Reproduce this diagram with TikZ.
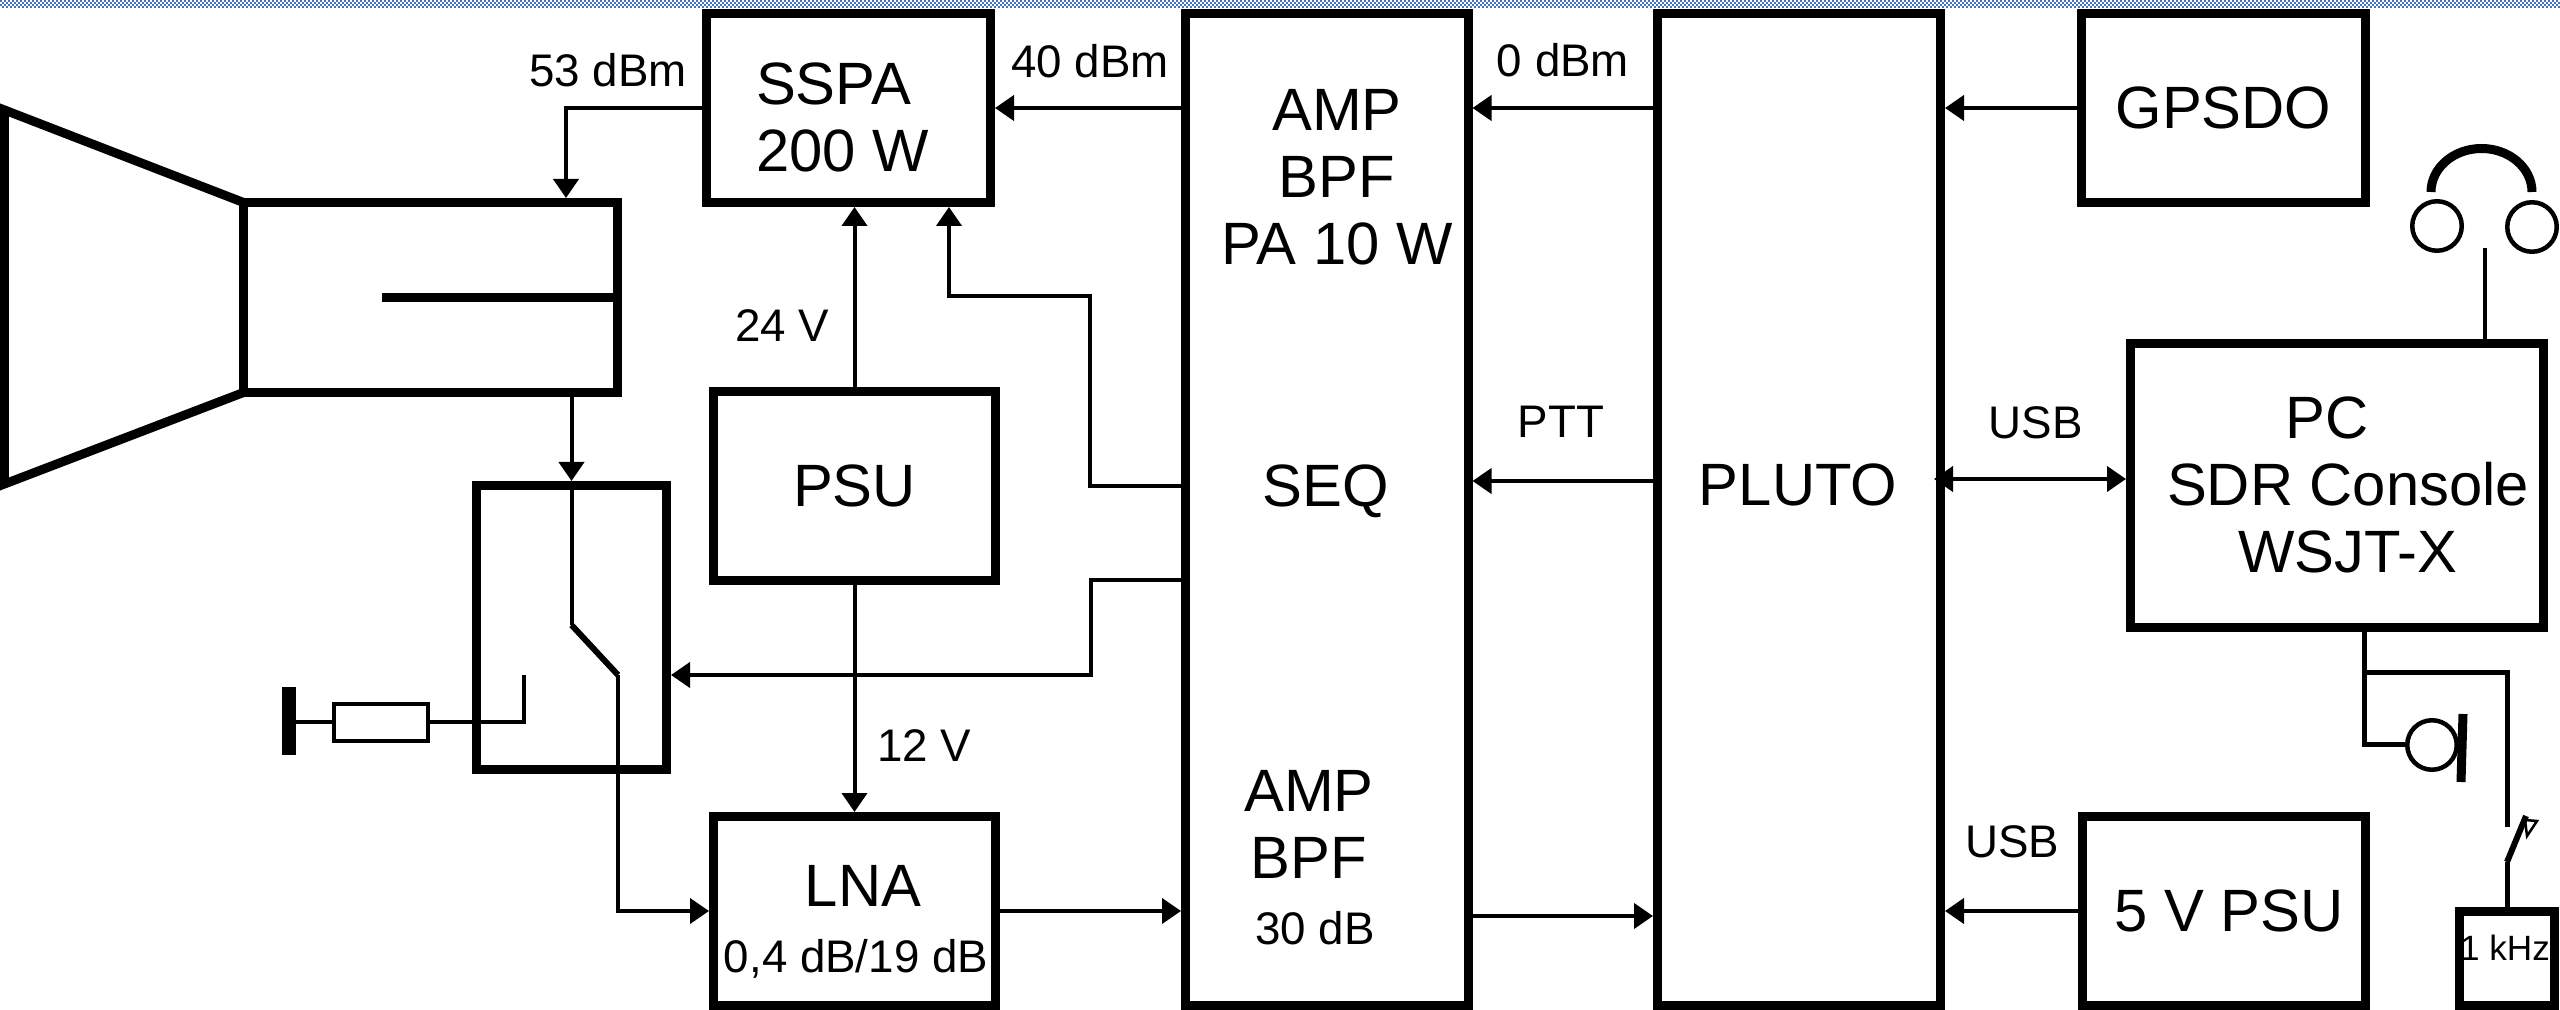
\documentclass[tikz,border=0pt]{standalone}
\usepackage{fontspec}
\setmainfont{Liberation Sans}
\usetikzlibrary{arrows.meta}
\definecolor{ditherblue}{RGB}{68,114,196}

\begin{document}
\begin{tikzpicture}[x=0.1mm,y=-0.1mm,line width=0.4mm,>={Triangle[length=1.9mm,width=2.5mm]}]
\tikzstyle{block}=[draw=black,line width=0.9mm,inner sep=0,font=\fontsize{17}{19.06}\selectfont,align=center]
\tikzstyle{biglabel}=[inner sep=0,font=\fontsize{17}{19.06}\selectfont]
\tikzstyle{smalllabel}=[inner sep=0,anchor=base,font=\fontsize{13}{15}\selectfont]
\tikzstyle{earpiece}=[draw=black,circle,line width=0.45mm,inner sep=0,minimum size=4.95mm]
\tikzstyle{heavy}=[line width=0.9mm]
\useasboundingbox (0,0) rectangle (2560,1010);
\foreach \rowy/\rowph in {1/0,3/0.2,5/0,7/0.2}
  \draw[ditherblue,line width=0.2mm,dash pattern=on 0.2mm off 0.2mm,dash phase=\rowph mm] (0,\rowy) -- (2560,\rowy);
\node[block,minimum width=28.4mm,minimum height=18.9mm] (sspa) at (848.5,108) {};
\node[block,minimum width=28.2mm,minimum height=18.9mm] (psu) at (854.5,486) {PSU};
\node[block,minimum width=28.2mm,minimum height=18.9mm] (lna) at (854.5,911) {};
\node[block,minimum width=37.4mm,minimum height=19mm] (wg) at (430.5,297.5) {};
\node[block,minimum width=19mm,minimum height=28.4mm] (rfsw) at (571.5,627.5) {};
\node[block,minimum width=28.25mm,minimum height=99.2mm] (amp) at (1326.75,509.5) {};
\node[block,minimum width=28.3mm,minimum height=99.2mm] (pluto) at (1799,509.5) {};
\node[block,minimum width=28.4mm,minimum height=18.9mm] (gpsdo) at (2223.5,108) {GPSDO};
\node[block,minimum width=41.3mm,minimum height=28.4mm] (pc) at (2337,485.5) {};
\node[block,minimum width=28.3mm,minimum height=18.9mm] (psufive) at (2224,911) {};
\node[block,minimum width=9.5mm,minimum height=9.4mm] (tone) at (2507,958.5) {};
\node[draw=black,inner sep=0,minimum width=9.4mm,minimum height=3.7mm] (res) at (381,722.5) {};
\node[earpiece] (earl) at (2437,226) {};
\node[earpiece] (earr) at (2532,227) {};
\node[earpiece] (mic) at (2432,745) {};
\node[biglabel,align=left,anchor=west] (sspatxt) at (754,117.5) {SSPA\\200 W};
\node[biglabel,align=center] (amptxt) at (1337,177) {AMP\\BPF\\PA 10 W};
\node[biglabel,anchor=base] (seqtxt) at (1326,507) {SEQ};
\node[biglabel,align=center] (amptxtb) at (1309,824.5) {AMP\\BPF};
\node[biglabel] (plutotxt) at (1798,485) {PLUTO};
\node[biglabel] (lnatxt) at (863,885.5) {LNA};
\node[biglabel,align=center] (pctxt) at (2348,485) {PC\hspace*{4.2mm}\\SDR Console\\WSJT-X};
\node[biglabel] (psufivetxt) at (2229,910.5) {5 V PSU};
\node[smalllabel] (lnagain) at (856,972) {0,4 dB/19 dB};
\node[smalllabel] (ampgain) at (1315,944) {30 dB};
\node[smalllabel] (lab53) at (608,87) {53 dBm};
\node[smalllabel] (lab40) at (1090,78) {40 dBm};
\node[smalllabel] (lab0) at (1563,77) {0 dBm};
\node[smalllabel] (lab24) at (782,342) {24 V};
\node[smalllabel] (lab12) at (924,762) {12 V};
\node[smalllabel] (labptt) at (1561,438) {PTT};
\node[smalllabel] (labusb) at (2035.5,438.5) {USB};
\node[smalllabel] (labusbb) at (2012,858) {USB};
\node[inner sep=0,font=\fontsize{10}{12}\selectfont] (tonetxt) at (2505,948) {1 kHz};
\coordinate (probe) at (382,297.5);
\coordinate (wipera) at (571.5,625);
\coordinate (wiperb) at (618,675);
\coordinate (contact) at (524,675);
\coordinate (gnd) at (289,722.5);
\coordinate (seqa) at (1090,486);
\coordinate (seqb) at (949,296);
\coordinate (seqc) at (1091,580);
\coordinate (pttport) at (1600,481);
\coordinate (usbport) at (2035,479);
\coordinate (ampout) at (1560,916);
\coordinate (antfeed) at (566,108);
\coordinate (phones) at (2485,248);
\coordinate (tap) at (2364,673);
\coordinate (keya) at (2507,827);
\coordinate (keyb) at (2507,862);
\coordinate (keyc) at (2526,816);
\draw[heavy] ([shift={(4.5,4.5)}]wg.north west) -- (4.5,110) -- (4.5,484) -- ([shift={(4.5,-4.5)}]wg.south west);
\draw[heavy] (wg.east) -- (probe);
\path[->] (amp.west |- sspa.east) edge (sspa.east)
          (pluto.west |- gpsdo.west) edge (amp.east |- gpsdo.west)
          (gpsdo.west) edge (pluto.east |- gpsdo.west)
          (pluto.west |- pttport) edge (amp.east |- pttport)
          (psu.north) edge (psu.north |- sspa.south)
          (psu.south) edge (lna.north)
          (lna.east) edge (amp.west |- lna.east)
          (amp.east |- ampout) edge (pluto.west |- ampout)
          (psufive.west) edge (pluto.east |- psufive.west)
          (wg.south -| rfsw.north) edge (rfsw.north);
\draw[<->] ([xshift=-1.1mm]pluto.east |- usbport) -- (pc.west |- usbport);
\draw[->] (sspa.west) -- (antfeed) -- (antfeed |- wg.north);
\draw[->] (amp.west |- seqa) -- (seqa) |- (seqb) -- (seqb |- sspa.south);
\draw[->] (amp.west |- seqc) -- (seqc) |- (rfsw.east |- wiperb);
\draw (rfsw.north) -- (wipera);
\draw[line width=0.6mm] (wipera) -- (wiperb);
\draw[->] (wiperb) |- (lna.west);
\draw (contact) |- (res.east);
\draw (res.west) -- (gnd);
\draw[line width=1.4mm] (gnd |- 0,687) -- (gnd |- 0,755);
\draw[heavy] (2431,192) arc[start angle=180,end angle=360,x radius=50.5,y radius=43.5];
\draw (phones) -- (phones |- pc.north);
\draw[line width=0.5mm] (tap |- pc.south) |- (mic.west);
\draw[line width=0.5mm] (tap) -| (keya);
\draw[heavy] (2463,714) -- (2461,782);
\draw[line width=0.5mm] (tone.north) -- (keyb);
\draw[line width=0.6mm] (keyb) -- (keyc);
\draw[line width=0.25mm] (2525,820) -- (2537,821) -- (2527,836) -- cycle;
\end{tikzpicture}
\end{document}
